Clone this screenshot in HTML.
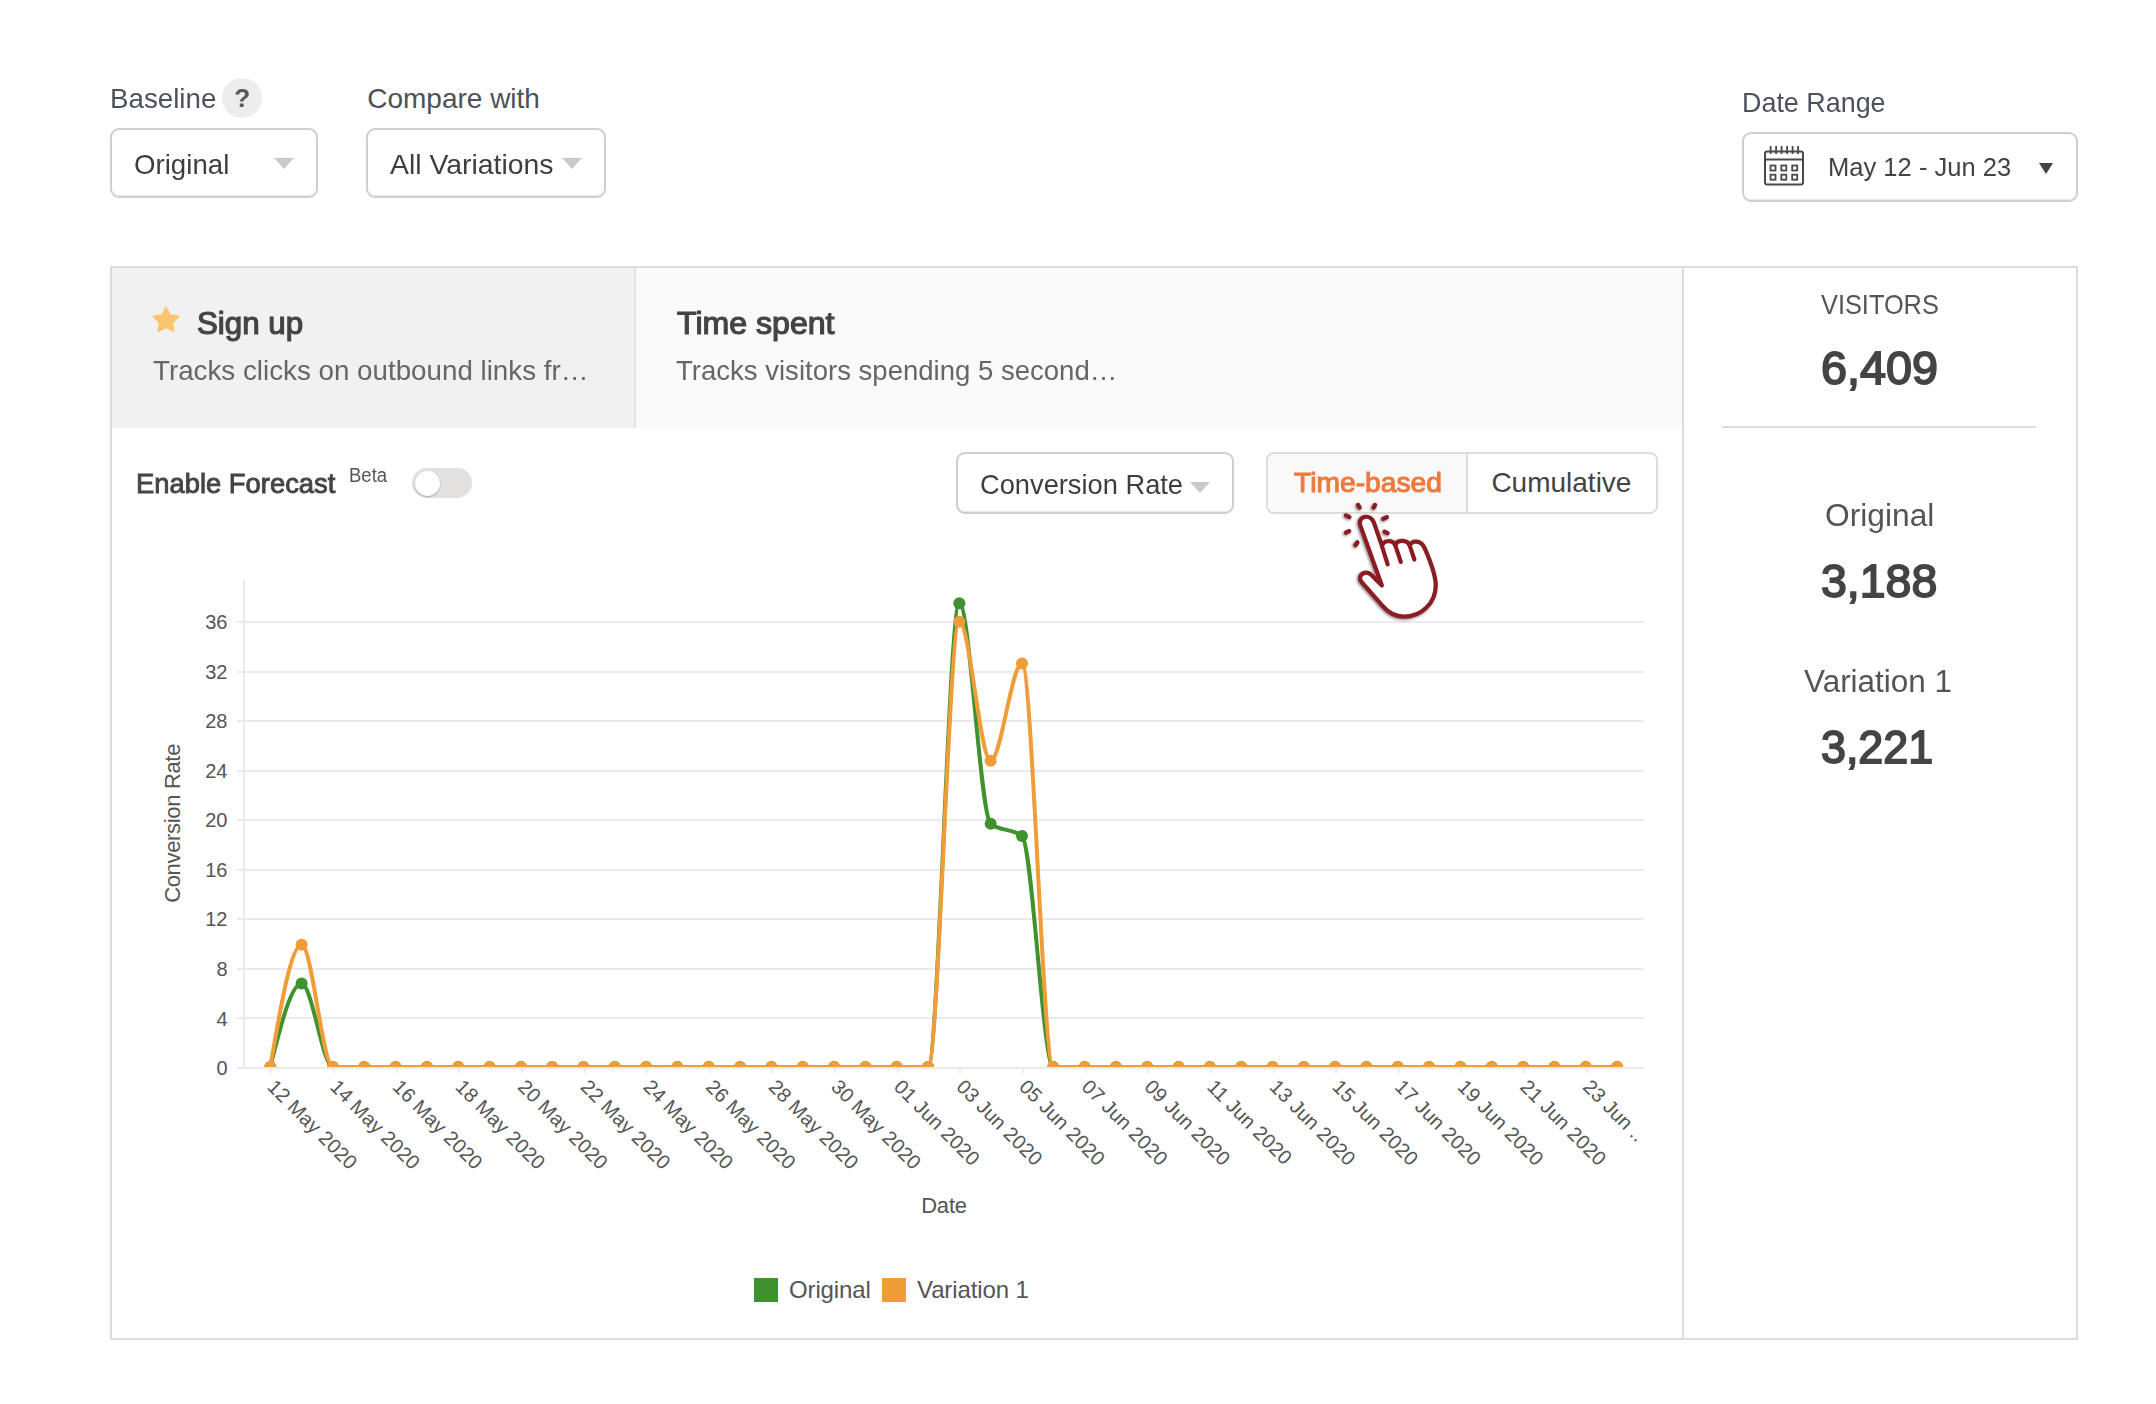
<!DOCTYPE html>
<html lang="en">
<head>
<meta charset="utf-8">
<title>Campaign report – Sign up</title>
<style>
*{box-sizing:border-box;margin:0;padding:0}
html,body{width:2156px;height:1404px;background:#fff;overflow:hidden}
body{position:relative;font-family:"Liberation Sans",sans-serif;color:#444}
.t{position:absolute;white-space:nowrap;line-height:1;transform-origin:0 0}
.abs{position:absolute}
.select{position:absolute;border:2px solid #cfcfcf;border-radius:9px;background:#fff;box-shadow:inset 0 -2px 1px -1px rgba(0,0,0,.09)}
.caret{position:absolute;width:0;height:0;border-left:10px solid transparent;border-right:10px solid transparent;border-top:11px solid #c9c9c9}
.panel{position:absolute;left:110px;top:266px;width:1968px;height:1074px;border:2px solid #dddddb}
.tab1{position:absolute;left:112px;top:268px;width:522px;height:160px;background:#f1f1f1}
.tabsep{position:absolute;left:634px;top:268px;width:2px;height:160px;background:#e3e3e3}
.tab2{position:absolute;left:636px;top:268px;width:1046px;height:160px;background:#fafafa}
.side-sep{position:absolute;left:1682px;top:268px;width:2px;height:1070px;background:#dddddb}
.side-hr{position:absolute;left:1722px;top:426px;width:314px;height:2px;background:#dddddb}
.help{position:absolute;left:222px;top:78px;width:40px;height:40px;border-radius:50%;background:#ededed}
.toggle{position:absolute;left:412px;top:468px;width:60px;height:30px;border-radius:15px;background:#e2e1df}
.toggle i{position:absolute;left:3px;top:3px;width:25px;height:25px;border-radius:50%;background:#fff;box-shadow:0 1px 2px rgba(0,0,0,.25)}
.btngrp{position:absolute;left:1266px;top:452px;width:392px;height:62px;border:2px solid #dddddb;border-radius:8px;background:#fff;overflow:hidden}
.btngrp .on{position:absolute;left:0;top:0;width:198px;height:58px;background:#f9f9f9}
.btngrp .dv{position:absolute;left:198px;top:0;width:2px;height:58px;background:#dddddb}
</style>
</head>
<body>
<header class="filters">
<div class="help"></div>
<div class="t" id="help-q" style="left:234.2px;top:84.5px;font-size:26px;font-weight:700;color:#5a5a5a">?</div>
<div class="select" style="left:110px;top:128px;width:208px;height:70px"></div>
<div class="caret" style="left:274px;top:158px"></div>
<div class="select" style="left:366px;top:128px;width:240px;height:70px"></div>
<div class="caret" style="left:562px;top:158px"></div>
<div class="select" style="left:1742px;top:132px;width:336px;height:70px"></div>
<svg class="abs" style="left:1762px;top:144px" width="44" height="44" viewBox="1762 144 44 44" fill="none" stroke="#4a4a4a" stroke-width="2">
  <rect x="1765" y="151.5" width="38" height="33" rx="2"/>
  <path d="M1765 159.5h38"/>
  <path d="M1770.6 146v8M1776.1 146v8M1781.6 146v8M1787.1 146v8M1792.6 146v8M1798.1 146v8" stroke-width="1.8"/>
  <g stroke-width="1.8"><rect x="1770.5" y="165.5" width="5" height="5"/><rect x="1781.3" y="165.5" width="5" height="5"/><rect x="1792.2" y="165.5" width="5" height="5"/>
  <rect x="1770.5" y="174.7" width="5" height="5"/><rect x="1781.3" y="174.7" width="5" height="5"/><rect x="1792.2" y="174.7" width="5" height="5"/></g>
</svg>
<div class="caret" style="left:2039px;top:163px;border-left-width:7.5px;border-right-width:7.5px;border-top:11px solid #444"></div>
<div class="t" id="lbl-base" style="left:109.52px;top:85px;font-size:28px;color:#4c515b;transform:scaleX(0.9901);">Baseline</div>
<div class="t" id="lbl-comp" style="left:367.20px;top:85px;font-size:28px;color:#4c515b;">Compare with</div>
<div class="t" id="sel-orig" style="left:133.51px;top:151px;font-size:28px;color:#3e3e3e;transform:scaleX(0.9877);">Original</div>
<div class="t" id="sel-all" style="left:389.90px;top:151px;font-size:28px;color:#3e3e3e;transform:scaleX(1.0135);">All Variations</div>
<div class="t" id="lbl-date" style="left:1742.28px;top:89px;font-size:28px;color:#4c515b;transform:scaleX(0.9608);">Date Range</div>
<div class="t" id="sel-date" style="left:1828.23px;top:154px;font-size:26px;color:#444444;transform:scaleX(0.9828);">May 12 - Jun 23</div>
</header>

<main class="report">
<div class="panel"></div>
<nav class="goal-tabs">
<div class="tab1"></div><div class="tabsep"></div><div class="tab2"></div>
<svg class="abs" style="left:150px;top:304px" width="32" height="30" viewBox="150 304 32 30"><path fill="#f9c66d" stroke="#f9c66d" stroke-width="1.6" stroke-linejoin="round" d="M166.0 307.3 L169.9 315.1 L178.6 316.4 L172.4 322.6 L173.8 331.2 L166.0 327.2 L158.2 331.2 L159.6 322.6 L153.4 316.4 L162.1 315.1 Z"/></svg>
<div class="t" id="tab1-t" style="left:196.90px;top:308px;font-size:31px;color:#444444;transform:scaleX(1.0087);-webkit-text-stroke:1.2px #444444;">Sign up</div>
<div class="t" id="tab1-d" style="left:153.20px;top:357px;font-size:28px;color:#666666;transform:scaleX(0.9912);">Tracks clicks on outbound links fr…</div>
<div class="t" id="tab2-t" style="left:676.62px;top:308px;font-size:31px;color:#444444;transform:scaleX(1.0347);-webkit-text-stroke:1.2px #444444;">Time spent</div>
<div class="t" id="tab2-d" style="left:676.20px;top:357px;font-size:28px;color:#666666;transform:scaleX(0.9834);">Tracks visitors spending 5 second…</div>
</nav>
<div class="toolbar">
<div class="toggle"><i></i></div>
<div class="select" style="left:956px;top:452px;width:278px;height:62px"></div>
<div class="caret" style="left:1190px;top:482px"></div>
<div class="btngrp"><div class="on"></div><div class="dv"></div></div>
<div class="t" id="fc-lbl" style="left:136.08px;top:470px;font-size:28px;color:#444444;transform:scaleX(0.9778);-webkit-text-stroke:0.9px #444444;">Enable Forecast</div>
<div class="t" id="fc-beta" style="left:348.57px;top:465px;font-size:20px;color:#555555;transform:scaleX(0.9264);">Beta</div>
<div class="t" id="dd-conv" style="left:979.63px;top:471px;font-size:28px;color:#3e3e3e;transform:scaleX(0.9735);">Conversion Rate</div>
<div class="t" id="btn-time" style="left:1293.85px;top:469px;font-size:28px;color:#ed7b3e;transform:scaleX(1.0080);-webkit-text-stroke:1.1px #ed7b3e;">Time-based</div>
<div class="t" id="btn-cum" style="left:1491.40px;top:469px;font-size:28px;color:#444444;">Cumulative</div>
</div>
<figure class="chart-wrap">
<svg class="chart" width="1570" height="798" viewBox="112 540 1570 798" style="position:absolute;left:112px;top:540px" font-family="Liberation Sans, sans-serif">
<defs><clipPath id="plot"><rect x="244" y="560" width="1400" height="507"/></clipPath><clipPath id="xax"><rect x="230" y="1060" width="1407" height="140"/></clipPath></defs>
<g class="grid" fill="#ebebeb">
<rect x="237" y="1017" width="1407" height="2"/>
<rect x="237" y="968" width="1407" height="2"/>
<rect x="237" y="918" width="1407" height="2"/>
<rect x="237" y="869" width="1407" height="2"/>
<rect x="237" y="819" width="1407" height="2"/>
<rect x="237" y="770" width="1407" height="2"/>
<rect x="237" y="720" width="1407" height="2"/>
<rect x="237" y="671" width="1407" height="2"/>
<rect x="237" y="621" width="1407" height="2"/>
</g>
<g class="axes" fill="#ebebeb">
<rect x="243" y="580" width="2" height="488"/>
<rect x="237" y="1067" width="1407" height="2"/>
<rect x="270" y="1069" width="2" height="4"/>
<rect x="333" y="1069" width="2" height="4"/>
<rect x="396" y="1069" width="2" height="4"/>
<rect x="458" y="1069" width="2" height="4"/>
<rect x="521" y="1069" width="2" height="4"/>
<rect x="584" y="1069" width="2" height="4"/>
<rect x="646" y="1069" width="2" height="4"/>
<rect x="709" y="1069" width="2" height="4"/>
<rect x="771" y="1069" width="2" height="4"/>
<rect x="834" y="1069" width="2" height="4"/>
<rect x="897" y="1069" width="2" height="4"/>
<rect x="959" y="1069" width="2" height="4"/>
<rect x="1022" y="1069" width="2" height="4"/>
<rect x="1085" y="1069" width="2" height="4"/>
<rect x="1147" y="1069" width="2" height="4"/>
<rect x="1210" y="1069" width="2" height="4"/>
<rect x="1273" y="1069" width="2" height="4"/>
<rect x="1335" y="1069" width="2" height="4"/>
<rect x="1398" y="1069" width="2" height="4"/>
<rect x="1460" y="1069" width="2" height="4"/>
<rect x="1523" y="1069" width="2" height="4"/>
<rect x="1586" y="1069" width="2" height="4"/>
</g>
<g class="ylabels" font-size="20" fill="#555" text-anchor="end">
<text x="227.5" y="1075.1">0</text>
<text x="227.5" y="1025.54">4</text>
<text x="227.5" y="975.99">8</text>
<text x="227.5" y="926.43">12</text>
<text x="227.5" y="876.88">16</text>
<text x="227.5" y="827.32">20</text>
<text x="227.5" y="777.76">24</text>
<text x="227.5" y="728.21">28</text>
<text x="227.5" y="678.65">32</text>
<text x="227.5" y="629.1">36</text>
</g>
<g class="xlabels" font-size="20" fill="#555" clip-path="url(#xax)" letter-spacing="0.12">
<text transform="translate(266.3,1088.1) rotate(45)">12 May 2020</text>
<text transform="translate(328.94,1088.1) rotate(45)">14 May 2020</text>
<text transform="translate(391.58,1088.1) rotate(45)">16 May 2020</text>
<text transform="translate(454.22,1088.1) rotate(45)">18 May 2020</text>
<text transform="translate(516.86,1088.1) rotate(45)">20 May 2020</text>
<text transform="translate(579.5,1088.1) rotate(45)">22 May 2020</text>
<text transform="translate(642.14,1088.1) rotate(45)">24 May 2020</text>
<text transform="translate(704.78,1088.1) rotate(45)">26 May 2020</text>
<text transform="translate(767.42,1088.1) rotate(45)">28 May 2020</text>
<text transform="translate(830.06,1088.1) rotate(45)">30 May 2020</text>
<text transform="translate(892.7,1088.1) rotate(45)">01 Jun 2020</text>
<text transform="translate(955.34,1088.1) rotate(45)">03 Jun 2020</text>
<text transform="translate(1017.98,1088.1) rotate(45)">05 Jun 2020</text>
<text transform="translate(1080.62,1088.1) rotate(45)">07 Jun 2020</text>
<text transform="translate(1143.26,1088.1) rotate(45)">09 Jun 2020</text>
<text transform="translate(1205.9,1088.1) rotate(45)">11 Jun 2020</text>
<text transform="translate(1268.54,1088.1) rotate(45)">13 Jun 2020</text>
<text transform="translate(1331.18,1088.1) rotate(45)">15 Jun 2020</text>
<text transform="translate(1393.82,1088.1) rotate(45)">17 Jun 2020</text>
<text transform="translate(1456.46,1088.1) rotate(45)">19 Jun 2020</text>
<text transform="translate(1519.1,1088.1) rotate(45)">21 Jun 2020</text>
<text transform="translate(1581.74,1088.1) rotate(45)">23 Jun ...</text>
</g>
<text class="ytitle" transform="translate(180,823.4) rotate(-90)" text-anchor="middle" font-size="22" fill="#555" letter-spacing="-0.33">Conversion Rate</text>
<text class="xtitle" x="944" y="1213" text-anchor="middle" font-size="22" fill="#555" letter-spacing="-0.2">Date</text>
<g class="series" clip-path="url(#plot)">
<path d="M270.3,1067C280.74,1025.25,291.18,983.5,301.62,983.5C312.06,983.5,322.5,1067,332.94,1067H928.02C938.46,1067,948.9,603.16,959.34,603.16C969.78,603.16,980.22,815.71,990.66,823.8C1001.1,831.9,1011.54,827.85,1021.98,835.95C1032.42,844.04,1042.86,1067,1053.3,1067H1617.06" fill="none" stroke="#3f932e" stroke-width="4" stroke-linejoin="round"/>
<g fill="#3f932e"><circle cx="270.3" cy="1067" r="6"/><circle cx="301.62" cy="983.5" r="6"/><circle cx="332.94" cy="1067" r="6"/><circle cx="364.26" cy="1067" r="6"/><circle cx="395.58" cy="1067" r="6"/><circle cx="426.9" cy="1067" r="6"/><circle cx="458.22" cy="1067" r="6"/><circle cx="489.54" cy="1067" r="6"/><circle cx="520.86" cy="1067" r="6"/><circle cx="552.18" cy="1067" r="6"/><circle cx="583.5" cy="1067" r="6"/><circle cx="614.82" cy="1067" r="6"/><circle cx="646.14" cy="1067" r="6"/><circle cx="677.46" cy="1067" r="6"/><circle cx="708.78" cy="1067" r="6"/><circle cx="740.1" cy="1067" r="6"/><circle cx="771.42" cy="1067" r="6"/><circle cx="802.74" cy="1067" r="6"/><circle cx="834.06" cy="1067" r="6"/><circle cx="865.38" cy="1067" r="6"/><circle cx="896.7" cy="1067" r="6"/><circle cx="928.02" cy="1067" r="6"/><circle cx="959.34" cy="603.16" r="6"/><circle cx="990.66" cy="823.8" r="6"/><circle cx="1021.98" cy="835.95" r="6"/><circle cx="1053.3" cy="1067" r="6"/><circle cx="1084.62" cy="1067" r="6"/><circle cx="1115.94" cy="1067" r="6"/><circle cx="1147.26" cy="1067" r="6"/><circle cx="1178.58" cy="1067" r="6"/><circle cx="1209.9" cy="1067" r="6"/><circle cx="1241.22" cy="1067" r="6"/><circle cx="1272.54" cy="1067" r="6"/><circle cx="1303.86" cy="1067" r="6"/><circle cx="1335.18" cy="1067" r="6"/><circle cx="1366.5" cy="1067" r="6"/><circle cx="1397.82" cy="1067" r="6"/><circle cx="1429.14" cy="1067" r="6"/><circle cx="1460.46" cy="1067" r="6"/><circle cx="1491.78" cy="1067" r="6"/><circle cx="1523.1" cy="1067" r="6"/><circle cx="1554.42" cy="1067" r="6"/><circle cx="1585.74" cy="1067" r="6"/><circle cx="1617.06" cy="1067" r="6"/></g>
<path d="M270.3,1067C280.74,1005.86,291.18,944.72,301.62,944.72C312.06,944.72,322.5,1067,332.94,1067H928.02C938.46,1067,948.9,621.86,959.34,621.86C969.78,621.86,980.22,760.74,990.66,760.74C1001.1,760.74,1011.54,663.61,1021.98,663.61C1032.42,663.61,1042.86,1067,1053.3,1067H1617.06" fill="none" stroke="#f09d39" stroke-width="4" stroke-linejoin="round"/>
<g fill="#f09d39"><circle cx="270.3" cy="1067" r="6"/><circle cx="301.62" cy="944.72" r="6"/><circle cx="332.94" cy="1067" r="6"/><circle cx="364.26" cy="1067" r="6"/><circle cx="395.58" cy="1067" r="6"/><circle cx="426.9" cy="1067" r="6"/><circle cx="458.22" cy="1067" r="6"/><circle cx="489.54" cy="1067" r="6"/><circle cx="520.86" cy="1067" r="6"/><circle cx="552.18" cy="1067" r="6"/><circle cx="583.5" cy="1067" r="6"/><circle cx="614.82" cy="1067" r="6"/><circle cx="646.14" cy="1067" r="6"/><circle cx="677.46" cy="1067" r="6"/><circle cx="708.78" cy="1067" r="6"/><circle cx="740.1" cy="1067" r="6"/><circle cx="771.42" cy="1067" r="6"/><circle cx="802.74" cy="1067" r="6"/><circle cx="834.06" cy="1067" r="6"/><circle cx="865.38" cy="1067" r="6"/><circle cx="896.7" cy="1067" r="6"/><circle cx="928.02" cy="1067" r="6"/><circle cx="959.34" cy="621.86" r="6"/><circle cx="990.66" cy="760.74" r="6"/><circle cx="1021.98" cy="663.61" r="6"/><circle cx="1053.3" cy="1067" r="6"/><circle cx="1084.62" cy="1067" r="6"/><circle cx="1115.94" cy="1067" r="6"/><circle cx="1147.26" cy="1067" r="6"/><circle cx="1178.58" cy="1067" r="6"/><circle cx="1209.9" cy="1067" r="6"/><circle cx="1241.22" cy="1067" r="6"/><circle cx="1272.54" cy="1067" r="6"/><circle cx="1303.86" cy="1067" r="6"/><circle cx="1335.18" cy="1067" r="6"/><circle cx="1366.5" cy="1067" r="6"/><circle cx="1397.82" cy="1067" r="6"/><circle cx="1429.14" cy="1067" r="6"/><circle cx="1460.46" cy="1067" r="6"/><circle cx="1491.78" cy="1067" r="6"/><circle cx="1523.1" cy="1067" r="6"/><circle cx="1554.42" cy="1067" r="6"/><circle cx="1585.74" cy="1067" r="6"/><circle cx="1617.06" cy="1067" r="6"/></g>
</g>
<g class="legend" font-size="24" fill="#555">
<rect x="754" y="1278" width="24" height="24" fill="#3f932e"/>
<text x="789" y="1298" letter-spacing="-0.14">Original</text>
<rect x="882" y="1278" width="24" height="24" fill="#f09d39"/>
<text x="917" y="1298" letter-spacing="-0.1">Variation 1</text>
</g>
</svg>
</figure>
<aside class="visitors">
<div class="side-sep"></div><div class="side-hr"></div>
<div class="t" id="v-title" style="left:1821.20px;top:291px;font-size:28px;color:#555555;transform:scaleX(0.9050);">VISITORS</div>
<div class="t" id="v-total" style="left:1821.31px;top:344px;font-size:47px;color:#444444;transform:scaleX(0.9941);-webkit-text-stroke:1.8px #444444;">6,409</div>
<div class="t" id="v-o-lbl" style="left:1825.38px;top:500px;font-size:31px;color:#555555;transform:scaleX(1.0237);">Original</div>
<div class="t" id="v-o-num" style="left:1821.40px;top:557px;font-size:47px;color:#444444;transform:scaleX(0.9883);-webkit-text-stroke:1.8px #444444;">3,188</div>
<div class="t" id="v-v-lbl" style="left:1804.30px;top:666px;font-size:31px;color:#555555;transform:scaleX(1.0148);">Variation 1</div>
<div class="t" id="v-v-num" style="left:1821.40px;top:723px;font-size:47px;color:#444444;transform:scaleX(0.9529);-webkit-text-stroke:1.8px #444444;">3,221</div>
</aside>
</main>

<svg class="abs" style="left:1330px;top:490px;overflow:visible" width="120" height="140" viewBox="0 0 1203 1404">
  <defs><filter id="hs" x="-20%" y="-20%" width="140%" height="140%"><feGaussianBlur in="SourceAlpha" stdDeviation="14"/><feOffset dx="-10" dy="14"/><feComponentTransfer><feFuncA type="linear" slope=".55"/></feComponentTransfer><feMerge><feMergeNode/><feMergeNode in="SourceGraphic"/></feMerge></filter></defs>
  <g filter="url(#hs)" stroke="#8a1a22" stroke-width="42" stroke-linecap="round" stroke-linejoin="round" fill="none">
    <path fill="#fff" d="M520 958 L303 352 C288 305 318 268 362 268 C402 268 428 292 441 330 L521 562 C532 505 628 492 655 556 C668 496 778 492 800 560 C815 498 915 500 950 585 C1000 700 1060 850 1060 955 C1060 1130 920 1270 740 1270 C650 1270 580 1225 525 1160 L318 925 C290 893 300 850 335 835 C365 822 395 832 415 852 Z"/>
    <path d="M521 562 L578 745 M655 556 L710 722 M800 560 L846 697"/>
    <path stroke-width="43" d="M282 150 L296 176 M451 150 L438 176 M160 255 L194 271 M570 274 L534 289 M160 428 L192 413 M548 419 L577 433 M275 525 L254 553"/>
  </g>
</svg>

</body>
</html>
